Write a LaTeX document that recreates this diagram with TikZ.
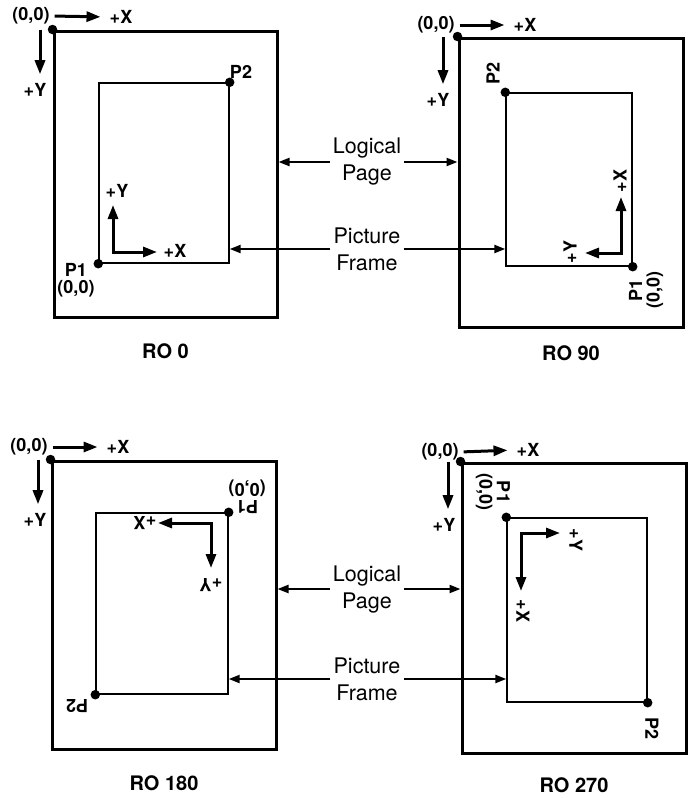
\documentclass[tikz,border=0pt]{standalone}
\usepackage{fontspec}
\setmainfont{TeX Gyre Heros}
\usetikzlibrary{arrows.meta}

\begin{document}
\begin{tikzpicture}[
    x=1pt, y=-1pt,
    pagebox/.style={rectangle, draw=black, line width=3pt, inner sep=0pt},
    framebox/.style={rectangle, draw=black, line width=1.4pt, inner sep=0pt},
    dot/.style={circle, fill=black, inner sep=0pt, minimum size=9.5pt},
    lbl/.style={font=\bfseries\fontsize{18}{17.5}\selectfont, inner sep=1pt, align=center},
    title/.style={font=\bfseries\fontsize{20}{20}\selectfont},
    callout/.style={font=\fontsize{21.5}{27}\selectfont, align=center, inner sep=3pt},
    axis/.style={line width=3pt, -{Triangle[length=14pt, width=10pt]}, shorten >=8pt},
    axes/.style={line width=3pt, arrows={Triangle[length=14pt, width=10pt]-Triangle[length=14pt, width=10pt]}},
    ptr/.style={line width=2.2pt, -{Triangle[length=11pt, width=8pt]}}
]
\useasboundingbox (0,0) rectangle (690,798);
% RO 0
\node[pagebox, minimum width=223pt, minimum height=286pt] (pageA) at (165.5,174) {};
\node[framebox, minimum width=130pt, minimum height=180pt] (frameA) at (164,173) {};
\node[dot] (orgA) at (pageA.north west) {};
\node[dot] (p2dotA) at (frameA.north east) {};
\node[dot] (p1dotA) at (frameA.south west) {};
\node[lbl] (oA) at (31,16) {(0,0)};
\node[lbl] (xA) at (121,17) {+X};
\node[lbl] (yA) at (35,90) {+Y};
\coordinate (dnA) at ([xshift=9pt]oA.south);
\draw[axis, shorten <=4pt] (oA.east) -- (xA.west);
\draw[axis] (dnA |- pageA.north) -- (dnA |- yA.north);
\coordinate (cA) at (113,252);
\coordinate (cAy) at (113,205);
\coordinate (cAx) at (157,252);
\draw[axes] (cAy) -- (cA) -- (cAx);
\node[lbl] (yiA) at (117,191) {+Y};
\node[lbl] (xiA) at (175,251) {+X};
\node[lbl] (p2A) at (241,72) {P2};
\node[lbl] (p1A) at (76,280) {P1\\(0,0)};
\node[title] (tA) at (165.5,351) {RO 0};
% RO 90
\node[pagebox, minimum width=224pt, minimum height=289pt] (pageB) at (571,182.5) {};
\node[framebox, minimum width=126pt, minimum height=173pt] (frameB) at (569,179.5) {};
\node[dot] (orgB) at (pageB.north west) {};
\node[dot] (p2dotB) at (frameB.north west) {};
\node[dot] (p1dotB) at (frameB.south east) {};
\node[lbl] (oB) at (436,25) {(0,0)};
\node[lbl] (xB) at (525,25) {+X};
\node[lbl] (yB) at (438,100) {+Y};
\coordinate (dnB) at ([xshift=7pt]oB.south);
\draw[axis, shorten <=4pt] (oB.east) -- (xB.west);
\draw[axis] (dnB |- pageB.north) -- (dnB |- yB.north);
\coordinate (cB) at (621,253);
\coordinate (cBx) at (621,197);
\coordinate (cBy) at (585,253);
\draw[axes] (cBx) -- (cB) -- (cBy);
\node[lbl, rotate=90] (xiB) at (620,181) {+X};
\node[lbl, rotate=90] (yiB) at (570,252) {+Y};
\node[lbl, rotate=90] (p2B) at (493,73) {P2};
\node[lbl, rotate=90] (p1B) at (646,290) {P1\\(0,0)};
\node[title] (tB) at (571,353) {RO 90};
% RO 180
\node[pagebox, minimum width=224pt, minimum height=288pt] (pageC) at (164,605) {};
\node[framebox, minimum width=132pt, minimum height=181pt] (frameC) at (162,603.5) {};
\node[dot] (orgC) at (pageC.north west) {};
\node[dot] (p1dotC) at (frameC.north east) {};
\node[dot] (p2dotC) at (frameC.south west) {};
\node[lbl] (oC) at (29,447) {(0,0)};
\node[lbl] (xC) at (118,447) {+X};
\node[lbl] (yC) at (35,520) {+Y};
\coordinate (dnC) at ([xshift=9pt]oC.south);
\draw[axis, shorten <=4pt] (oC.east) -- (xC.west);
\draw[axis] (dnC |- pageC.north) -- (dnC |- yC.north);
\coordinate (cC) at (211,523);
\coordinate (cCx) at (158,523);
\coordinate (cCy) at (211,568);
\draw[axes] (cCx) -- (cC) -- (cCy);
\node[lbl, rotate=180] (xiC) at (145,523) {+X};
\node[lbl, rotate=180] (yiC) at (211,585) {+Y};
\node[lbl, rotate=180] (p1C) at (247,497) {P1\\(0,0)};
\node[lbl, rotate=180] (p2C) at (77,706) {P2};
\node[title] (tC) at (164,783) {RO 180};
% RO 270
\node[pagebox, minimum width=224pt, minimum height=290pt] (pageD) at (574,608) {};
\node[framebox, minimum width=140pt, minimum height=184pt] (frameD) at (577,610) {};
\node[dot] (orgD) at (pageD.north west) {};
\node[dot] (p1dotD) at (frameD.north west) {};
\node[dot] (p2dotD) at (frameD.south east) {};
\node[lbl] (oD) at (440,452) {(0,0)};
\node[lbl] (xD) at (528,450) {+X};
\node[lbl] (yD) at (444,525) {+Y};
\coordinate (dnD) at ([xshift=8pt]oD.south);
\draw[axis, shorten <=4pt] (oD.east) -- (xD.west);
\draw[axis] (dnD |- pageD.north) -- (dnD |- yD.north);
\coordinate (cD) at (521,533);
\coordinate (cDy) at (560,533);
\coordinate (cDx) at (521,591);
\draw[axes] (cDy) -- (cD) -- (cDx);
\node[lbl, rotate=-90] (yiD) at (576,540) {+Y};
\node[lbl, rotate=-90] (xiD) at (523,611) {+X};
\node[lbl, rotate=-90] (p1D) at (493,492) {P1\\(0,0)};
\node[lbl, rotate=-90] (p2D) at (652,728) {P2};
\node[title] (tD) at (574,785) {RO 270};
% callouts
\node[callout] (lpTop) at (367,162) {Logical\\Page};
\node[callout] (pfTop) at (367,249) {Picture\\Frame};
\draw[ptr] (lpTop.west) -- (lpTop.west -| pageA.east);
\draw[ptr] (lpTop.east) -- (lpTop.east -| pageB.west);
\draw[ptr] (pfTop.west) -- (pfTop.west -| frameA.east);
\draw[ptr] (pfTop.east) -- (pfTop.east -| frameB.west);
\node[callout] (lpBot) at (367,589) {Logical\\Page};
\node[callout] (pfBot) at (367,679) {Picture\\Frame};
\draw[ptr] (lpBot.west) -- (lpBot.west -| pageC.east);
\draw[ptr] (lpBot.east) -- (lpBot.east -| pageD.west);
\draw[ptr] (pfBot.west) -- (pfBot.west -| frameC.east);
\draw[ptr] (pfBot.east) -- (pfBot.east -| frameD.west);
\end{tikzpicture}
\end{document}
